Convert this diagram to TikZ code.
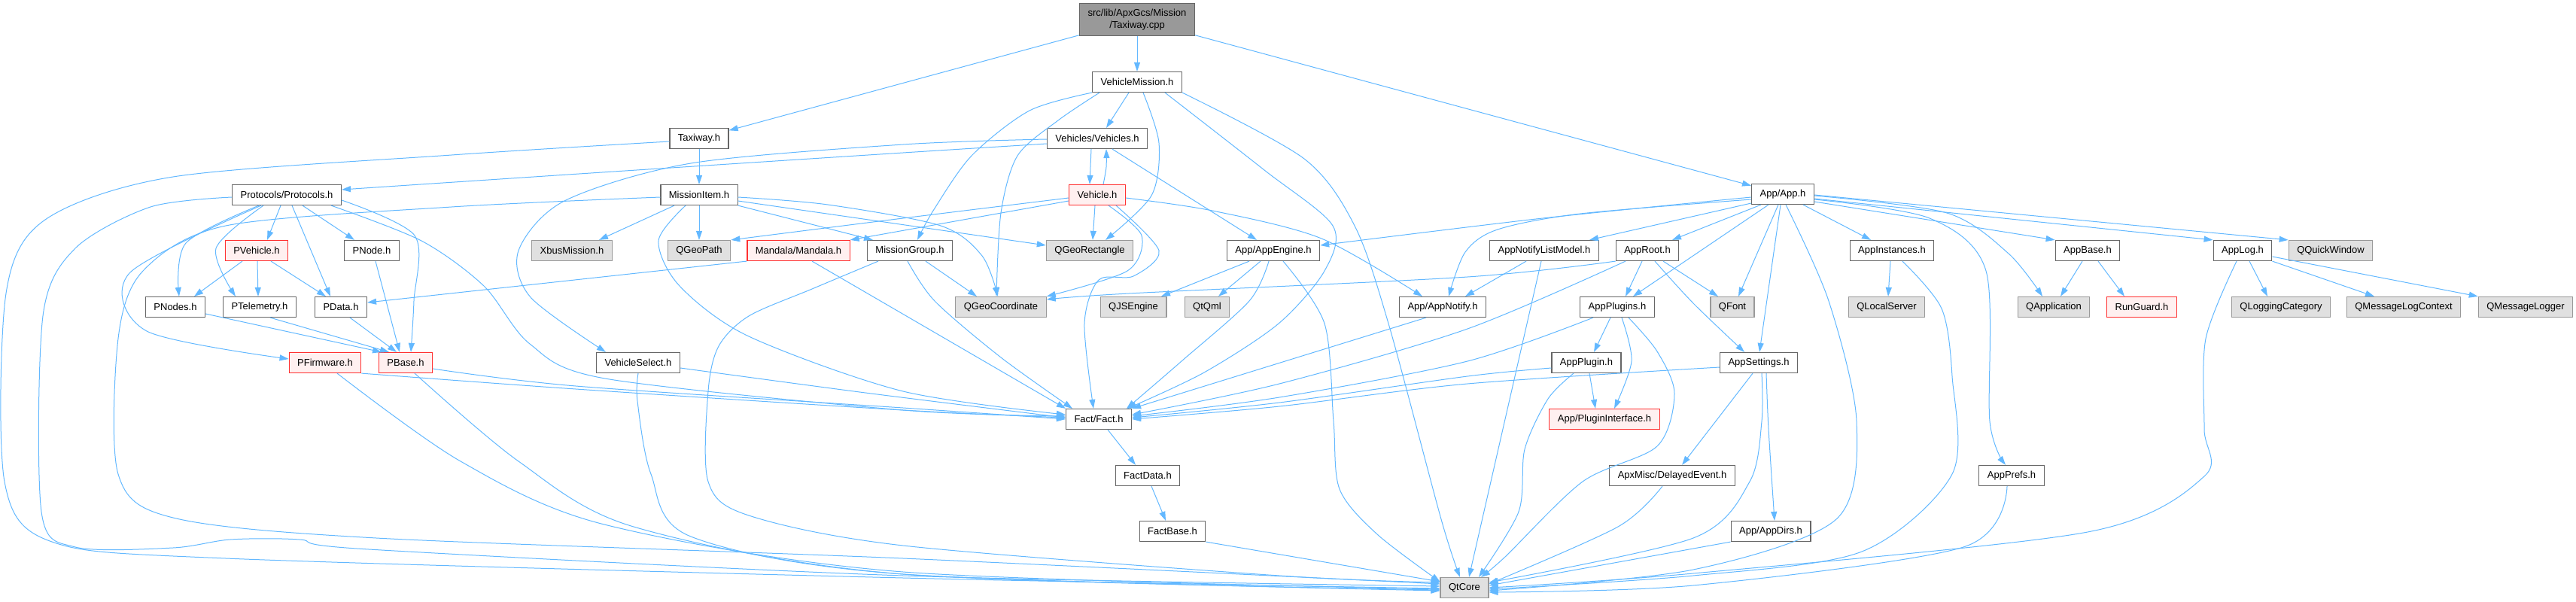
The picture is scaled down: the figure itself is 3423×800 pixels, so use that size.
\documentclass[tikz,border=0pt]{standalone}
\usepackage{fontspec}
\setmainfont{Liberation Sans}
\usetikzlibrary{arrows.meta}
\definecolor{edgec}{HTML}{63B8FF}
\definecolor{nborder}{HTML}{666666}
\definecolor{gborder}{HTML}{999999}
\definecolor{gfill}{HTML}{E0E0E0}
\definecolor{rfill}{HTML}{FFF0F0}
\definecolor{rborder}{HTML}{FF3030}
\definecolor{rootfill}{HTML}{999999}
\begin{document}
\begin{tikzpicture}[x=1pt,y=-1pt,
 box/.style={rectangle, font=\fontsize{13}{15}\selectfont, minimum height=27pt, inner xsep=11pt, inner ysep=0pt, line width=1.2pt},
 nbox/.style={box, draw=nborder, fill=white},
 gbox/.style={box, draw=gborder, fill=gfill},
 rbox/.style={box, draw=rborder, fill=rfill},
 rootbox/.style={box, draw=nborder, fill=rootfill, minimum height=43pt, align=center, font=\fontsize{13}{16}\selectfont},
 e/.style={draw=edgec, line width=1pt, -{Triangle[length=12pt,width=8pt]}},
 ]
\useasboundingbox (0,0) rectangle (3423,800);
% nodes
\node[rootbox] (root) at (1511,26) {src/lib/ApxGcs/Mission\\/Taxiway.cpp};
\node[nbox] (vm) at (1511,109) {VehicleMission.h};
\node[nbox] (tx) at (929,184) {Taxiway.h};
\node[nbox] (vs) at (1458,184) {Vehicles/Vehicles.h};
\node[nbox] (app) at (2369,258) {App/App.h};
\node[nbox] (prot) at (381,259) {Protocols/Protocols.h};
\node[nbox] (mi) at (929,259) {MissionItem.h};
\node[rbox] (veh) at (1458,259) {Vehicle.h};
\node[rbox] (pveh) at (341,333) {PVehicle.h};
\node[nbox] (pnode) at (494,333) {PNode.h};
\node[gbox] (xbus) at (760,333) {XbusMission.h};
\node[gbox] (qgp) at (929,333) {QGeoPath};
\node[rbox] (mand) at (1061,333) {Mandala/Mandala.h};
\node[nbox] (mg) at (1209,333) {MissionGroup.h};
\node[gbox] (qgr) at (1448,333) {QGeoRectangle};
\node[nbox] (aeng) at (1692,333) {App/AppEngine.h};
\node[nbox] (anlm) at (2052,333) {AppNotifyListModel.h};
\node[nbox] (aroot) at (2189,333) {AppRoot.h};
\node[nbox] (ainst) at (2514,333) {AppInstances.h};
\node[nbox] (abase) at (2774,333) {AppBase.h};
\node[nbox] (alog) at (2980,333) {AppLog.h};
\node[gbox] (qqw) at (3097,333) {QQuickWindow};
\node[nbox] (pnodes) at (233,408) {PNodes.h};
\node[nbox] (ptel) at (345,408) {PTelemetry.h};
\node[nbox] (pdata) at (453,408) {PData.h};
\node[gbox] (qgc) at (1330,408) {QGeoCoordinate};
\node[gbox] (qjs) at (1506,408) {QJSEngine};
\node[gbox] (qtqml) at (1604,408) {QtQml};
\node[nbox] (anot) at (1917,408) {App/AppNotify.h};
\node[nbox] (aplugs) at (2149,408) {AppPlugins.h};
\node[gbox] (qfont) at (2302,408) {QFont};
\node[gbox] (qls) at (2507,408) {QLocalServer};
\node[gbox] (qapp) at (2729,408) {QApplication};
\node[rbox] (rung) at (2846,408) {RunGuard.h};
\node[gbox] (qlc) at (3031,408) {QLoggingCategory};
\node[gbox] (qmlc) at (3194,408) {QMessageLogContext};
\node[gbox] (qml) at (3356,408) {QMessageLogger};
\node[rbox] (pfw) at (432,482) {PFirmware.h};
\node[rbox] (pbase) at (539,482) {PBase.h};
\node[nbox] (vsel) at (848,482) {VehicleSelect.h};
\node[nbox] (aplug) at (2108,482) {AppPlugin.h};
\node[nbox] (aset) at (2337,482) {AppSettings.h};
\node[nbox] (fact) at (1460,557) {Fact/Fact.h};
\node[rbox] (pif) at (2132,557) {App/PluginInterface.h};
\node[nbox] (fdata) at (1525,632) {FactData.h};
\node[nbox] (delev) at (2222,632) {ApxMisc/DelayedEvent.h};
\node[nbox] (aprefs) at (2673,632) {AppPrefs.h};
\node[nbox] (fbase) at (1558,706) {FactBase.h};
\node[nbox] (adirs) at (2353,706) {App/AppDirs.h};
\node[gbox] (qtcore) at (1946,781) {QtCore};
% root
\draw[e] (root) -- (tx);
\draw[e] (root) -- (vm);
\draw[e] (root) -- (app);
% taxiway
\draw[e] (tx) -- (mi);
\draw[e] plot[smooth] coordinates {([yshift=-4pt]tx.west) (600,206) (230,235) (60,292) (8,390) (6,640) (69,720) (300,742) (1200,768) ([yshift=-1pt]qtcore.west)};
% vehicle mission
\draw[e] ([xshift=-11pt]vm.south) -- ([xshift=12pt]vs.north);
\draw[e] plot[smooth] coordinates {(vm.south west) (1368,147) (1291,207) (1240,280) ([xshift=10pt]mg.north)};
\draw[e] plot[smooth] coordinates {([xshift=-50pt]vm.south) (1406,160) (1352,207) (1330,283) ([xshift=-6pt]qgc.north)};
\draw[e] plot[smooth] coordinates {([xshift=8pt]vm.south) (1540,190) (1530,260) ([xshift=21pt]qgr.north)};
\draw[e] plot[smooth] coordinates {([xshift=37pt]vm.south) (1680,226) (1771,300) (1760,360) (1699,430) (1600,495) ([xshift=38pt]fact.north)};
\draw[e] plot[smooth] coordinates {(vm.south east) (1733,211) (1800,300) (1845,430) (1915,690) ([xshift=-6pt]qtcore.north)};
% vehicles
\draw[e] ([xshift=-8pt]vs.south) -- ([xshift=-10pt]veh.north);
\draw[e] plot[smooth] coordinates {([xshift=8pt]veh.north) (1470,222) ([xshift=12pt]vs.south)};
\draw[e] plot[smooth] coordinates {([yshift=-7pt]vs.west) (1200,203) (800,229) ([yshift=7pt]prot.east)};
\draw[e] plot[smooth] coordinates {([yshift=-1pt]vs.west) (1200,192) (918,217) (750,267) (689,333) (705,395) ([xshift=-43pt]vsel.north)};
\draw[e] ([xshift=20pt]vs.south) -- ([xshift=-22pt]aeng.north);
% vehicle
\draw[e] plot[smooth] coordinates {([yshift=-4pt]veh.west) (1200,290) (qgp.north east)};
\draw[e] ([yshift=-8pt]veh.west) -- (mand.north east);
\draw[e] ([xshift=-3pt]veh.south) -- ([xshift=4pt]qgr.north);
\draw[e] plot[smooth] coordinates {([xshift=15pt]veh.south) (1517,313) (1498,360) (qgc.north east)};
\draw[e] plot[smooth] coordinates {([xshift=25pt]veh.south) (1540,333) (1506,367) (1460,372) (1441,430) ([xshift=-7pt]fact.north)};
\draw[e] plot[smooth] coordinates {([yshift=-4pt]veh.east) (1611,280) (1756,317) ([xshift=-27pt]anot.north)};
% mission item
\draw[e] ([xshift=-33pt]mi.south) -- ([xshift=36pt]xbus.north);
\draw[e] (mi) -- (qgp);
\draw[e] (mi.south east) -- ([xshift=-49pt]mg.north);
\draw[e] ([yshift=-8pt]mi.east) -- ([yshift=7pt]qgr.west);
\draw[e] plot[smooth] coordinates {([yshift=-3pt]mi.east) (1100,272) (1250,300) (1305,340) ([xshift=-4pt]qgc.north)};
\draw[e] plot[smooth] coordinates {([xshift=-18pt]mi.south) (875,320) (903,380) (995,447) (1200,520) ([yshift=6pt]fact.west)};
\draw[e] plot[smooth] coordinates {([yshift=-3pt]mi.west) (600,275) (300,300) (190,360) (157,450) (157,630) (230,688) (500,715) (1200,742) ([yshift=5pt]qtcore.west)};
% mandala
\draw[e] (mand.south west) -- ([yshift=6pt]pdata.east);
\draw[e] ([xshift=18pt]mand.south) -- (fact.north west);
% mission group
\draw[e] ([xshift=21pt]mg.south) -- ([xshift=-32pt]qgc.north);
\draw[e] plot[smooth] coordinates {([xshift=-3pt]mg.south) (1242,400) (1330,475) ([xshift=-35pt]fact.north)};
\draw[e] plot[smooth] coordinates {([xshift=-42pt]mg.south) (1079,384) (995,420) (955,460) (941,520) (941,640) (995,685) (1200,725) (1700,765) ([yshift=7pt]qtcore.west)};
% app engine
\draw[e] ([xshift=-32pt]aeng.south) -- ([xshift=37pt]qjs.north);
\draw[e] ([xshift=-17pt]aeng.south) -- ([xshift=15pt]qtqml.north);
\draw[e] plot[smooth] coordinates {([xshift=-6pt]aeng.south) (1660,400) (1570,480) ([xshift=37pt]fact.north)};
\draw[e] plot[smooth] coordinates {([xshift=13pt]aeng.south) (1760,430) (1772,560) (1780,650) (1830,710) ([yshift=8pt]qtcore.west)};
% notify list model / notify
\draw[e] ([xshift=-24pt]anlm.south) -- ([xshift=30pt]anot.north);
\draw[e] ([xshift=-4pt]anlm.south) -- ([xshift=6pt]qtcore.north);
\draw[e] ([xshift=-22pt]anot.south) -- (fact.north east);
% app
\draw[e] plot[smooth] coordinates {([yshift=-4pt]app.west) (2050,290) ([yshift=7pt]aeng.east)};
\draw[e] plot[smooth] coordinates {([yshift=-7pt]app.west) (2100,284) (1990,305) (1947,335) ([xshift=8pt]anot.north)};
\draw[e] ([yshift=-12pt]app.west) -- ([xshift=60pt]anlm.north);
\draw[e] ([xshift=-29pt]app.south) -- ([xshift=33pt]aroot.north);
\draw[e] ([xshift=-19pt]app.south) -- ([xshift=21pt]aplugs.north);
\draw[e] ([xshift=-6pt]app.south) -- ([xshift=8pt]qfont.north);
\draw[e] ([xshift=-3pt]app.south) -- ([xshift=1pt]aset.north);
\draw[e] plot[smooth] coordinates {([xshift=4pt]app.south) (2430,400) (2467,560) (2440,690) (2250,757) ([yshift=-4pt]qtcore.east)};
\draw[e] ([xshift=27pt]app.south) -- ([xshift=-28pt]ainst.north);
\draw[e] plot[smooth] coordinates {([yshift=-7pt]app.east) (2564,290) (2639,360) (2644,560) ([xshift=-8pt]aprefs.north)};
\draw[e] plot[smooth] coordinates {([yshift=-2pt]app.east) (2587,283) (2669,337) ([xshift=-15pt]qapp.north)};
\draw[e] ([yshift=-10pt]app.east) -- (abase.north west);
\draw[e] ([yshift=-6pt]app.east) -- (alog.north west);
\draw[e] ([yshift=-1pt]app.east) -- (qqw.north west);
% app root
\draw[e] ([xshift=-7pt]aroot.south) -- ([xshift=11pt]aplugs.north);
\draw[e] ([xshift=21pt]aroot.south) -- ([xshift=-19pt]qfont.north);
\draw[e] plot[smooth] coordinates {([xshift=10pt]aroot.south) (2250,403) ([xshift=-19pt]aset.north)};
\draw[e] plot[smooth] coordinates {([xshift=-29pt]aroot.south) (1950,437) (1700,510) ([yshift=6pt]fact.east)};
\draw[e] plot[smooth] coordinates {(aroot.south west) (1950,368) (1500,390) ([yshift=10pt]qgc.east)};
% app plugins
\draw[e] ([xshift=-9pt]aplugs.south) -- ([xshift=10pt]aplug.north);
\draw[e] plot[smooth] coordinates {([xshift=6pt]aplugs.south) (2168,480) ([xshift=13pt]pif.north)};
\draw[e] plot[smooth] coordinates {([xshift=-32pt]aplugs.south) (1950,480) (1700,528) ([yshift=4pt]fact.east)};
\draw[e] plot[smooth] coordinates {([xshift=15pt]aplugs.south) (2202,467) (2225,523) (2202,593) (2103,640) (2000,740) ([xshift=22pt]qtcore.north)};
% app plugin
\draw[e] ([xshift=4pt]aplug.south) -- ([xshift=-12pt]pif.north);
\draw[e] plot[smooth] coordinates {([yshift=-7pt]aplug.west) (1950,500) (1700,535) ([yshift=2pt]fact.east)};
\draw[e] plot[smooth] coordinates {([xshift=-17pt]aplug.south) (2057,530) (2026,597) (2018,680) ([xshift=19pt]qtcore.north)};
% app settings
\draw[e] plot[smooth] coordinates {([yshift=-6pt]aset.west) (1950,510) (1700,540) (fact.east)};
\draw[e] ([xshift=-8pt]aset.south) -- ([xshift=13pt]delev.north);
\draw[e] plot[smooth] coordinates {([xshift=10pt]aset.south) (2350,570) ([xshift=5pt]adirs.north)};
\draw[e] plot[smooth] coordinates {([xshift=4pt]aset.south) (2341,560) (2325,640) (2250,715) ([yshift=7pt]qtcore.east)};
\draw[e] plot[smooth] coordinates {([xshift=-13pt]delev.south) (2150,700) ([yshift=5pt]qtcore.east)};
\draw[e] (adirs.south west) -- ([yshift=3pt]qtcore.east);
% instances, prefs, base, log
\draw[e] ([xshift=-2pt]ainst.south) -- ([xshift=2pt]qls.north);
\draw[e] plot[smooth] coordinates {([xshift=14pt]ainst.south) (2580,410) (2594,500) (2594,630) (2474,733) (2250,765) ([yshift=-2pt]qtcore.east)};
\draw[e] plot[smooth] coordinates {([xshift=-6pt]aprefs.south) (2609,727) (2250,778) ([yshift=-6pt]qtcore.east)};
\draw[e] plot[smooth] coordinates {([xshift=-8pt]alog.south) (2931,450) (2929,570) (2929,633) (2774,707) (2250,762) ([yshift=0pt]qtcore.east)};
\draw[e] ([xshift=-7pt]abase.south) -- ([xshift=9pt]qapp.north);
\draw[e] ([xshift=14pt]abase.south) -- ([xshift=-23pt]rung.north);
\draw[e] ([xshift=9pt]alog.south) -- ([xshift=-18pt]qlc.north);
\draw[e] (alog.south east) -- ([xshift=-39pt]qmlc.north);
\draw[e] ([yshift=-8pt]alog.east) -- (qml.north west);
% protocols
\draw[e] ([xshift=-8pt]prot.south) -- ([xshift=14pt]pveh.north);
\draw[e] ([xshift=21pt]prot.south) -- ([xshift=-23pt]pnode.north);
\draw[e] ([xshift=7pt]prot.south) -- ([xshift=-14pt]pdata.north);
\draw[e] plot[smooth] coordinates {([xshift=-37pt]prot.south) (247,323) ([xshift=5pt]pnodes.north)};
\draw[e] plot[smooth] coordinates {([xshift=-31pt]prot.south) (287,330) ([xshift=-32pt]ptel.north)};
\draw[e] plot[smooth] coordinates {([xshift=-34pt]prot.south) (172,363) (195,440) ([yshift=5pt]pfw.west)};
\draw[e] plot[smooth] coordinates {([yshift=-7pt]prot.east) (551,313) (550,400) ([xshift=7pt]pbase.north)};
\draw[e] plot[smooth] coordinates {([xshift=59pt]prot.south) (560,320) (643,380) (704,457) (804,503) (1200,545) ([yshift=4pt]fact.west)};
\draw[e] plot[smooth] coordinates {([yshift=-3pt]prot.west) (200,275) (100,330) (57,420) (55,680) (100,727) (230,728) (306,717) (398,717) (490,730) (1200,765) ([yshift=2pt]qtcore.west)};
% p* headers
\draw[e] ([xshift=-19pt]pveh.south) -- ([xshift=25pt]pnodes.north);
\draw[e] ([xshift=1pt]pveh.south) -- ([xshift=-2pt]ptel.north);
\draw[e] ([xshift=19pt]pveh.south) -- ([xshift=-20pt]pdata.north);
\draw[e] ([xshift=5pt]pnode.south) -- ([xshift=-8pt]pbase.north);
\draw[e] ([yshift=-9pt]pnodes.east) -- ([xshift=-32pt]pbase.north);
\draw[e] ([xshift=14pt]ptel.south) -- ([xshift=-22pt]pbase.north);
\draw[e] ([xshift=12pt]pdata.south) -- ([xshift=-12pt]pbase.north);
\draw[e] plot[smooth] coordinates {(pfw.south east) (765,517) (1200,545) ([yshift=2pt]fact.west)};
\draw[e] plot[smooth] coordinates {([xshift=16pt]pfw.south) (612,613) (803,697) (1200,760) ([yshift=-2pt]qtcore.west)};
\draw[e] plot[smooth] coordinates {([yshift=-8pt]pbase.east) (765,513) (1200,542) (fact.west)};
\draw[e] plot[smooth] coordinates {([xshift=12pt]pbase.south) (689,613) (842,700) (1200,763) ([yshift=-3pt]qtcore.west)};
\draw[e] plot[smooth] coordinates {([yshift=-7pt]vsel.east) (1150,522) ([yshift=2pt]fact.west)};
\draw[e] plot[smooth] coordinates {(vsel.south) (847,533) (865,630) (918,713) (1200,763) ([yshift=-4pt]qtcore.west)};
% fact chain
\draw[e] ([xshift=12pt]fact.south) -- ([xshift=-16pt]fdata.north);
\draw[e] ([xshift=5pt]fdata.south) -- ([xshift=-9pt]fbase.north);
\draw[e] (fbase.south east) -- ([yshift=8pt]qtcore.west);
\end{tikzpicture}
\end{document}
